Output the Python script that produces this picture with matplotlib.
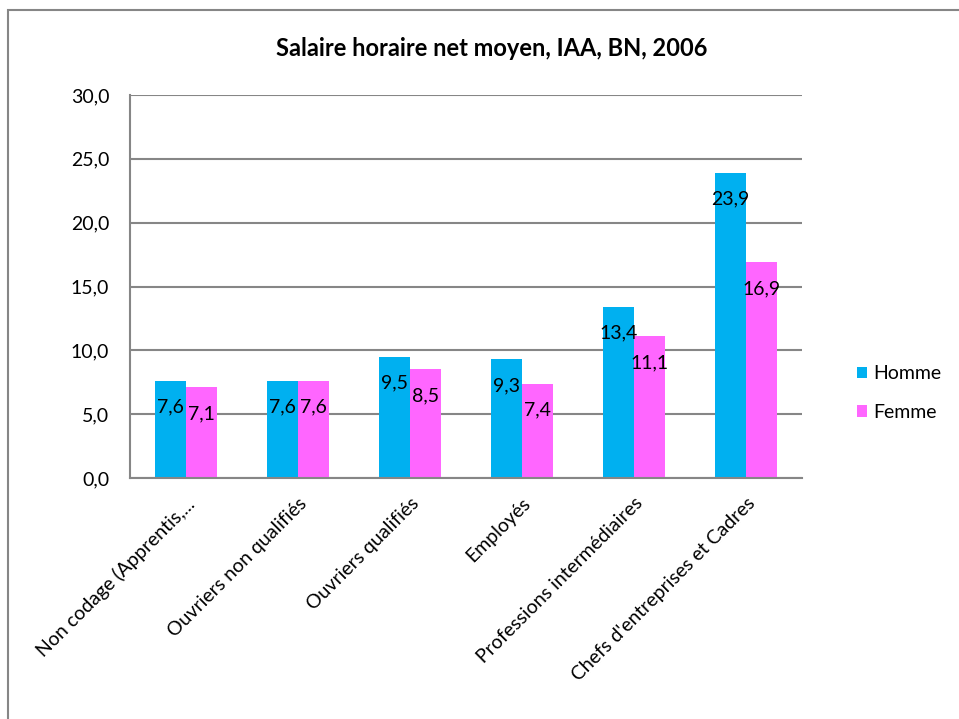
import matplotlib.pyplot as plt
import numpy as np
from matplotlib.patches import Rectangle

plt.rcParams['font.family'] = ['Lato', 'DejaVu Sans']

categories = ["Non codage (Apprentis,...", "Ouvriers non qualifiés", "Ouvriers qualifiés",
              "Employés", "Professions intermédiaires", "Chefs d'entreprises et Cadres"]
homme = [7.6, 7.6, 9.5, 9.3, 13.4, 23.9]
femme = [7.1, 7.6, 8.5, 7.4, 11.1, 16.9]

COL_H = "#00B0F0"
COL_F = "#FF66FF"
GRID = "#868686"


def fmt(v):
    return ("%.1f" % v).replace(".", ",")


fig = plt.figure(figsize=(9.59, 7.19), dpi=100)
# chart frame (Excel-style border)
fig.patches.append(Rectangle((8 / 959, -0.1), 1.2, 1 - 10 / 719 + 0.1, transform=fig.transFigure,
                             fill=False, edgecolor=GRID, linewidth=1.5, clip_on=False))

ax = fig.add_axes([130 / 959, 1 - 478 / 719, 672 / 959, 383 / 719])
x = np.arange(len(categories))
w = 0.28
b1 = ax.bar(x - w / 2, homme, w, color=COL_H, label="Homme")
b2 = ax.bar(x + w / 2, femme, w, color=COL_F, label="Femme")

for bars, vals in ((b1, homme), (b2, femme)):
    for r, v in zip(bars, vals):
        ax.annotate(fmt(v), (r.get_x() + r.get_width() / 2, v), xytext=(0, -19),
                    textcoords="offset points", ha="center", va="center", fontsize=14)

ax.set_xlim(-0.5, len(categories) - 0.5)
ax.set_ylim(0, 30)
ax.set_yticks(np.arange(0, 31, 5))
ax.set_yticklabels([fmt(t) for t in np.arange(0, 31, 5)], fontsize=14)
ax.yaxis.grid(True, color=GRID, linewidth=1.5)
ax.set_axisbelow(True)
ax.set_xticks(x)
ax.set_xticklabels(categories, rotation=45, ha="right", rotation_mode="anchor", fontsize=14)
ax.tick_params(axis="y", length=0, pad=15)
ax.tick_params(axis="x", length=0, pad=12)
for s in ("top", "right"):
    ax.spines[s].set_visible(False)
for s in ("left", "bottom"):
    ax.spines[s].set_color(GRID)
    ax.spines[s].set_linewidth(1.5)

fig.text(492 / 959, 1 - 48 / 719, "Salaire horaire net moyen, IAA, BN, 2006",
         ha="center", va="center", fontsize=17, fontweight="bold")

fig.legend(handles=[b1, b2], loc="center left", bbox_to_anchor=(839 / 959, 1 - 393 / 719),
           frameon=False, fontsize=14, handlelength=0.55, handleheight=0.55, labelspacing=1.1,
           handletextpad=0.3)

fig.savefig("out.png", dpi=100)
